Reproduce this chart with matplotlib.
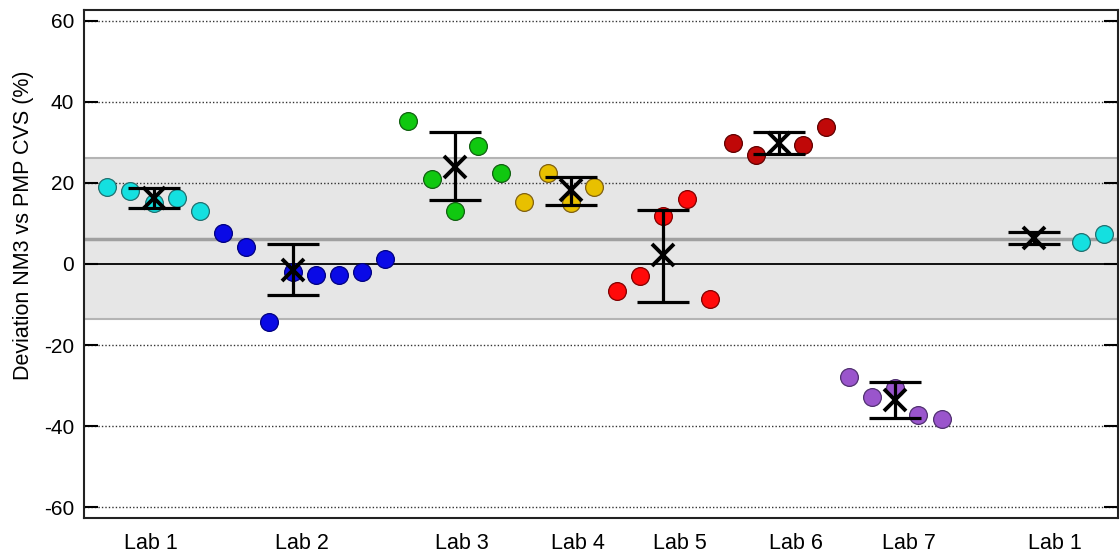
import matplotlib
matplotlib.use("Agg")
import matplotlib.pyplot as plt
from matplotlib import font_manager

# ---- data ----
lab_names = ["Lab 1", "Lab 2", "Lab 3", "Lab 4", "Lab 5", "Lab 6", "Lab 7", "Lab 1"]
lab1_vals = [19.1, 18.0, 15.0, 16.2, 13.1]
lab2_vals = [7.6, 4.3, -14.2, -1.9, -2.7, -2.6, -2.1, 1.2]
lab3_vals = [35.3, 21.0, 13.1, 29.2, 22.5]
lab4_vals = [15.2, 22.5, 15.1, 18.9]
lab5_vals = [-6.7, -2.9, 11.9, 16.1, -8.6]
lab6_vals = [29.8, 26.9, 29.4, 33.8]
lab7_vals = [-28.0, -32.8, -30.7, -37.4, -38.3]
lab1b_vals = [5.5, 7.3]
means = [16.3, -1.4, 24.0, 18.2, 2.1, 29.9, -33.6, 6.3]
upper = [18.7, 4.9, 32.5, 21.4, 13.3, 32.7, -29.2, 7.8]
lower = [13.7, -7.7, 15.8, 14.5, -9.3, 27.2, -37.9, 4.9]
overall_mean = 6.2
band_upper = 26.1
band_lower = -13.7

# ---- layout (sequential slot positions) ----
point_slots = [
    [0, 1, 2, 3, 4],
    [5, 6, 7, 8, 9, 10, 11, 12],
    [13, 14, 15, 16, 17],
    [18, 19, 20, 21],
    [22, 23, 24, 25, 26],
    [27, 28, 30, 31],
    [32, 33, 34, 35, 36],
    [42, 43],
]
mean_slots = [2, 8, 15, 20, 24, 29, 34, 40]
label_pos = [1.9, 8.4, 15.3, 20.3, 24.7, 29.7, 34.6, 40.9]
groups = [lab1_vals, lab2_vals, lab3_vals, lab4_vals, lab5_vals, lab6_vals, lab7_vals, lab1b_vals]
face = ["#14e0e0", "#0a0ae6", "#10c810", "#e8c000", "#ff0a0a", "#c00808", "#9a55cc", "#14e0e0"]
edge = ["#207070", "#000080", "#106010", "#806010", "#800000", "#600000", "#503070", "#207070"]

available = {f.name for f in font_manager.fontManager.ttflist}
base_font = "Liberation Sans" if "Liberation Sans" in available else "DejaVu Sans"
plt.rcParams["font.family"] = [base_font, "DejaVu Sans"]
plt.rcParams["axes.unicode_minus"] = False

fig = plt.figure(figsize=(11.2, 5.54), dpi=100)
ax = fig.add_axes([0.075, 0.065, 0.923, 0.917])

ax.set_xlim(-1.0, 43.6)
ax.set_ylim(-62.7, 62.7)

# band and reference lines
ax.axhspan(band_lower, band_upper, color="#e6e6e6", zorder=0, lw=0)
for yv in (band_lower, band_upper):
    ax.axhline(yv, color="#b4b4b4", lw=1.5, zorder=1)
ax.axhline(overall_mean, color="#a0a0a0", lw=2.5, zorder=1)
for yv in (60, 40, 20, -20, -40, -60):
    ax.axhline(yv, color="#333333", lw=1.0, ls=(0, (1, 1.5)), zorder=1)
ax.axhline(0, color="black", lw=1.3, zorder=1)

# points
for vals, slots, fc, ec in zip(groups, point_slots, face, edge):
    ax.plot(slots, vals, ls="none", marker="o", ms=12.8, mfc=fc, mec=ec, mew=0.9, zorder=3)

# mean + error bars
for m, lo, hi, s in zip(means, lower, upper, mean_slots):
    ax.errorbar([s], [m], yerr=[[m - lo], [hi - m]], fmt="none", ecolor="black",
                elinewidth=2.3, capsize=19, capthick=2.3, zorder=4)
    ax.plot([s], [m], ls="none", marker="x", ms=16.5, mec="black", mew=2.8, zorder=5)

ax.set_yticks([-60, -40, -20, 0, 20, 40, 60])
ax.tick_params(axis="y", direction="in", length=10, width=1.5, labelsize=15,
               right=True, pad=7)
ax.set_xticks(label_pos)
ax.set_xticklabels(lab_names, fontsize=15.5)
ax.tick_params(axis="x", length=0, pad=11)
for sp in ax.spines.values():
    sp.set_linewidth(1.5)
    sp.set_color("#222222")

ax.set_ylabel("Deviation NM3 vs PMP CVS (%)", fontsize=15.5, labelpad=8)
ax.yaxis.set_label_coords(-0.048, 0.577)

fig.savefig("out.png", dpi=100)
